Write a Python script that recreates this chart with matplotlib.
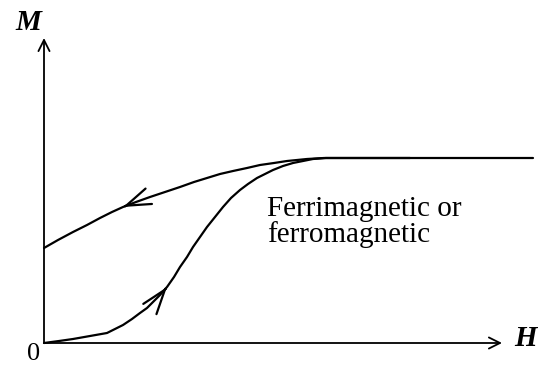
#plot.py
#M-H curve for a ferrimagnetic or ferromagnetic material

import matplotlib
matplotlib.use("Agg")
import matplotlib.pyplot as plt

#data (H along x, M along y, arbitrary units)
#upper branch: field coming back down from saturation
H_down = [0, 14, 29, 43, 56, 68, 79, 92, 106, 121, 136, 150, 163, 176, 189,
          203, 216, 230, 243, 253, 263, 280, 296, 489]
M_down = [95, 103, 111, 118, 125, 131, 136, 141, 146, 151, 156, 161, 165, 169, 172,
          175, 178, 180, 182, 183, 184, 185, 185, 185]

#lower branch: initial magnetization from the origin
H_up = [0, 15, 29, 46, 63, 71, 79, 88, 96, 103, 109, 116, 123, 130, 136, 143, 149,
        156, 163, 171, 179, 187, 196, 204, 213, 221, 229, 239, 249, 259, 269, 282,
        296, 366]
M_up = [0, 2, 4, 7, 10, 14, 18, 24, 30, 35, 41, 48, 56, 66, 76, 86, 96, 106, 116,
        126, 136, 145, 153, 159, 165, 169, 173, 177, 180, 182, 184, 185, 185, 185]

#index of the point where the direction arrow sits on each branch
arrow_down = 6
arrow_up = 12

H_max = 458
M_max = 305
label_text = "Ferrimagnetic or\nferromagnetic"

plt.rcParams["font.family"] = ["Liberation Serif", "DejaVu Serif"]

fig = plt.figure(figsize=(5.38, 3.66), dpi=100)
ax = fig.add_axes([0, 0, 1, 1])
ax.set_xlim(-44, 494)
ax.set_ylim(-23, 343)
ax.axis("off")

#axes with arrow heads
axis_arrow = dict(arrowstyle="->,head_length=0.4,head_width=0.2", lw=1.3,
                  color="black", shrinkA=0, shrinkB=0, mutation_scale=20)
ax.annotate("", xy=(H_max, 0), xytext=(0, 0), arrowprops=axis_arrow)
ax.annotate("", xy=(0, M_max), xytext=(0, 0), arrowprops=axis_arrow)

#the two branches
ax.plot(H_down, M_down, color="black", lw=1.6, solid_capstyle="round")
ax.plot(H_up, M_up, color="black", lw=1.6, solid_capstyle="round")

#direction arrows on the branches, pointing along the local tangent
curve_arrow = dict(arrowstyle="->,head_length=0.88,head_width=0.3", lw=1.6,
                   color="black", shrinkA=0, shrinkB=0, mutation_scale=20)

def tangent_arrow(H, M, i, step):
    #step = +1 means travel towards larger H, -1 towards smaller H
    dH = (H[i + 1] - H[i - 1]) * 0.1 * step
    dM = (M[i + 1] - M[i - 1]) * 0.1 * step
    ax.annotate("", xy=(H[i], M[i]), xytext=(H[i] - dH, M[i] - dM),
                arrowprops=curve_arrow)

tangent_arrow(H_down, M_down, arrow_down, -1)
tangent_arrow(H_up, M_up, arrow_up, 1)

#labels
ax.text(-16, 321, "M", fontsize=21, fontweight="bold", fontstyle="italic",
        ha="center", va="center")
ax.text(482, 5, "H", fontsize=21, fontweight="bold", fontstyle="italic",
        ha="center", va="center")
ax.text(-10, -11, "0", fontsize=19, ha="center", va="center")
ax.text(223, 147, label_text, fontsize=21, ha="left", va="top", linespacing=0.95)

plt.savefig("out.png", dpi=100)
